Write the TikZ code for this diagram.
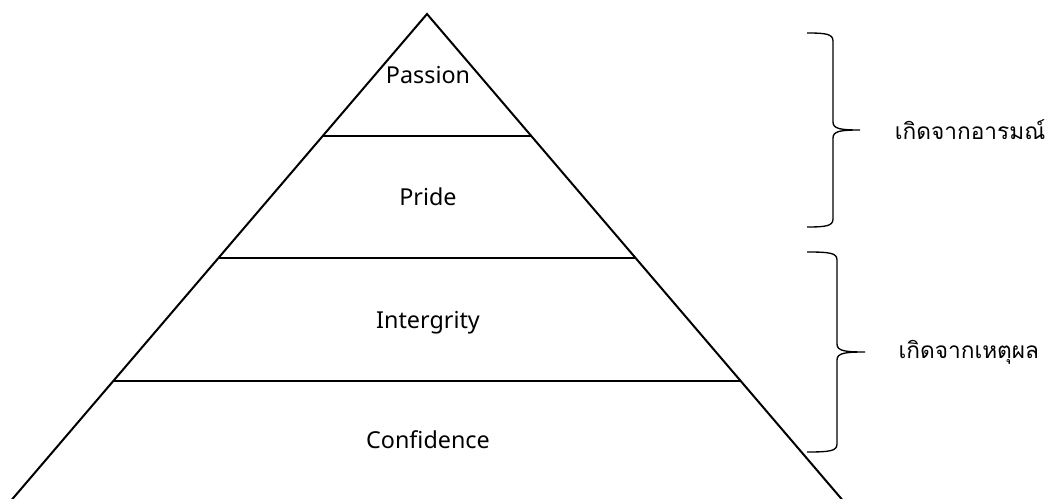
\documentclass[tikz,border=0pt]{standalone}
\usepackage{fontspec}
\setmainfont{Noto Sans}
\newfontfamily\thaifont[Script=Thai]{Loma}
\usetikzlibrary{calc,positioning}
\tikzstyle{side} = [line width=1.5pt, line join=miter]
\tikzstyle{layer} = [font=\fontsize{17.5}{20}\selectfont, inner sep=0pt, anchor=base]
\tikzstyle{reason} = [font=\thaifont\fontsize{17}{20}\selectfont, inner sep=0pt, anchor=west]
\tikzstyle{bracket} = [line width=1pt]
% #1 tip name, #2 end x, #3 back x, #4 tip x, #5 top y, #6 bottom y
\newcommand{\curlybrace}[6]{%
	\coordinate (#1) at (#4,{(#5+#6)/2});
	\draw[bracket] (#2,#5) .. controls ({#3-7},#5) and (#3,{#5+1}) .. (#3,{#5+8})
		-- (#3,{(#5+#6)/2-8}) .. controls (#3,{(#5+#6)/2-1}) and ({#3+8},{(#5+#6)/2}) .. (#1)
		.. controls ({#3+8},{(#5+#6)/2}) and (#3,{(#5+#6)/2+1}) .. (#3,{(#5+#6)/2+8})
		-- (#3,{#6-8}) .. controls (#3,{#6-1}) and ({#3-7},#6) .. (#2,#6);
}

\begin{document}
\begin{tikzpicture}[x=0.75pt, y=-0.75pt]
	\useasboundingbox (0,0) rectangle (1051,499);
	\clip (0,0) rectangle (1051,499);
	\coordinate (apex) at (427,14);
	\coordinate (baseL) at (9,503);
	\coordinate (baseR) at (845,503);
	\draw[side] (baseL) -- (apex) -- (baseR);
	\foreach \f in {0.25,0.5,0.75}
		\draw[side] ($(apex)!\f!(baseL)$) -- ($(apex)!\f!(baseR)$);

	\node[layer] (passion) at (428,84) {Passion};
	\node[layer] (pride) at (428,206) {Pride};
	\node[layer] (integrity) at (428,329) {Intergrity};
	\node[layer] (confidence) at (428,448) {Confidence};

	\curlybrace{emotion}{807}{833}{860}{33}{227}
	\curlybrace{reasoning}{807}{837}{865}{252}{452}
	\node[reason, right=26pt of emotion] (emotionlabel) {เกิดจากอารมณ์};
	\node[reason, right=25pt of reasoning] (reasonlabel) {เกิดจากเหตุผล};
\end{tikzpicture}
\end{document}
